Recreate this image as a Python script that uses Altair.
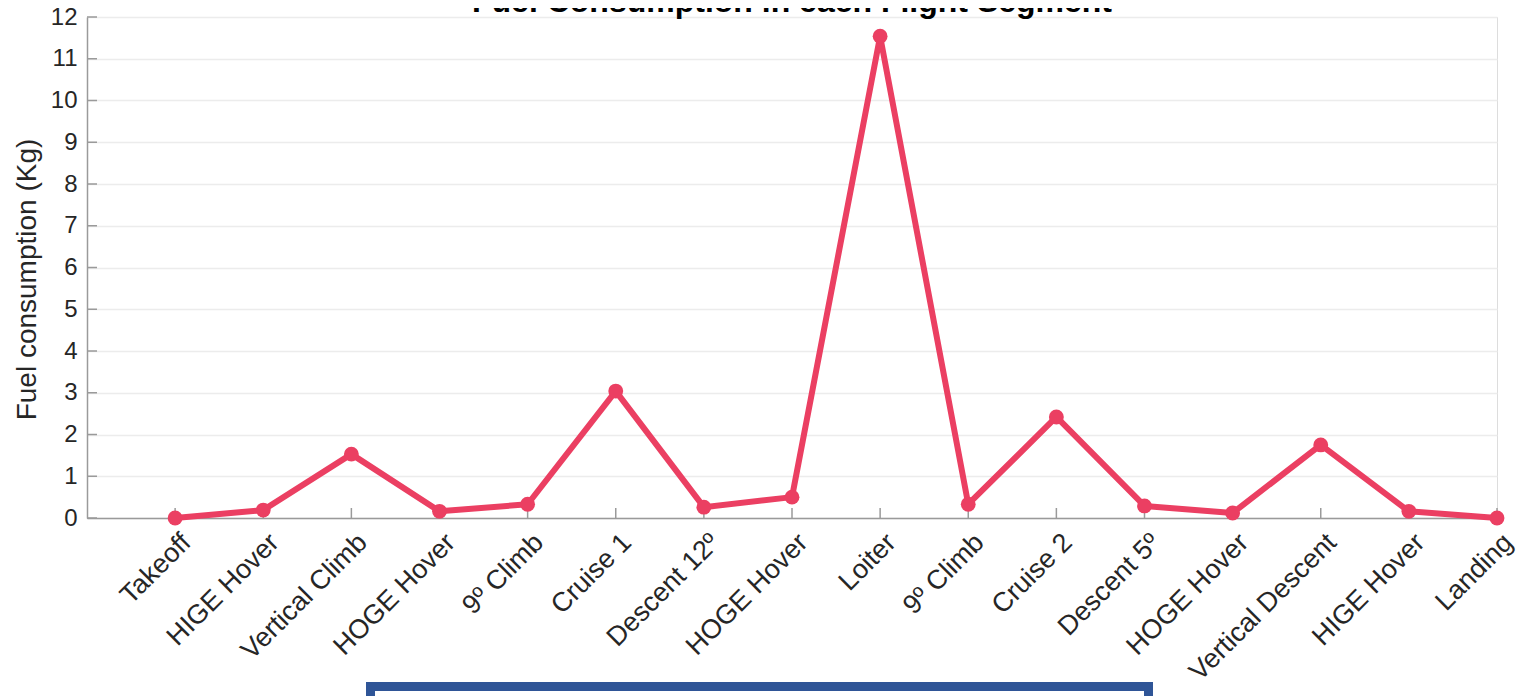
import altair as alt
import pandas as pd
import json

segments = ["Takeoff", "HIGE Hover", "Vertical Climb", "HOGE Hover", "9º Climb",
            "Cruise 1", "Descent 12º", "HOGE Hover", "Loiter", "9º Climb",
            "Cruise 2", "Descent 5º", "HOGE Hover", "Vertical Descent",
            "HIGE Hover", "Landing"]
fuel = [0.0, 0.19, 1.53, 0.16, 0.33, 3.04, 0.26, 0.50, 11.54, 0.33,
        2.42, 0.29, 0.12, 1.75, 0.16, 0.0]
y_ticks = list(range(0, 13))

positions = list(range(1, len(segments) + 1))
df = pd.DataFrame({"pos": positions, "segment": segments, "fuel": fuel})
ytick_df = pd.DataFrame({"v": y_ticks})

W, H = 1410, 501
FONT = "Liberation Sans"
RED = "#EB3F62"
AXIS_GRAY = "#9a9a9a"

label_expr = json.dumps(segments) + "[datum.value - 1]"

xscale = alt.Scale(domain=[0, 16], nice=False, zero=False)
yscale = alt.Scale(domain=[0, 12], nice=False)

base = alt.Chart(df)

line = base.mark_line(color=RED, strokeWidth=6, strokeJoin="round").encode(
    x=alt.X("pos:Q", scale=xscale,
            axis=alt.Axis(values=positions, labelExpr=label_expr, title=None,
                          grid=False, tickSize=0, labelAngle=-45, labelAlign="right",
                          labelBaseline="middle", labelPadding=20, labelOffset=11,
                          labelFont=FONT, labelFontSize=27, labelColor="#262626",
                          labelLimit=0,
                          domainColor=AXIS_GRAY, domainWidth=1.5, labelOverlap=False,
                          labelBound=False, labelFlush=False)),
    y=alt.Y("fuel:Q", scale=yscale,
            axis=alt.Axis(values=y_ticks, title="Fuel consumption (Kg)", grid=True,
                          gridColor="#ececec", gridWidth=1.5, tickSize=0,
                          labelPadding=10, labelFont=FONT, labelFontSize=24,
                          labelColor="#262626", titleFont=FONT, titleFontSize=28,
                          titleFontWeight="normal", titleColor="#262626",
                          titlePadding=9, titleY=262, domainColor=AXIS_GRAY,
                          domainWidth=1.5, labelFlush=False)),
)

points = base.mark_circle(color=RED, opacity=1, size=220).encode(
    x=alt.X("pos:Q", scale=xscale),
    y=alt.Y("fuel:Q", scale=yscale),
)

xticks = base.mark_rule(color=AXIS_GRAY, strokeWidth=1.5).encode(
    x=alt.X("pos:Q", scale=xscale),
    y=alt.value(H),
    y2=alt.value(H - 10),
)

yticks = alt.Chart(ytick_df).mark_rule(color=AXIS_GRAY, strokeWidth=1.5).encode(
    y=alt.Y("v:Q", scale=yscale),
    x=alt.value(0),
    x2=alt.value(10),
)

title = alt.Chart(pd.DataFrame({"t": ["Fuel Consumption in each Flight Segment"]})).mark_text(
    font=FONT, fontSize=32, fontWeight="bold", color="#000000", align="center",
    baseline="alphabetic"
).encode(text="t:N", x=alt.value(W / 2), y=alt.value(-5))

box = alt.Chart(pd.DataFrame({"b": [1]})).mark_rect(
    fill="white", stroke="#2F5597", strokeWidth=9
).encode(x=alt.value(283.5), x2=alt.value(1061.5), y=alt.value(669.5), y2=alt.value(720))

chart = alt.layer(yticks, xticks, line, points, title, box).properties(
    width=W, height=H,
    autosize=alt.AutoSizeParams(type="none"),
    padding={"left": 79, "top": 9, "right": 20, "bottom": 178},
).configure_view(stroke=None).configure(background="white")

chart.save("out.html", embed_options={"renderer": "svg", "actions": False})
